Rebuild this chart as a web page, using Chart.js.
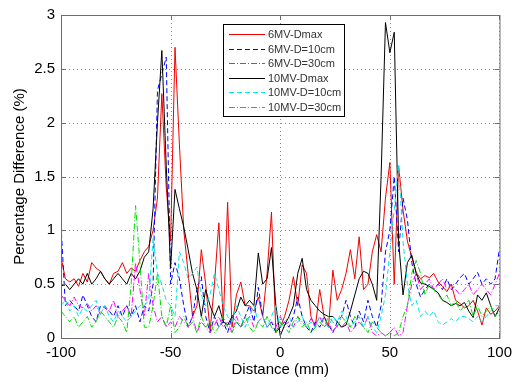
<!DOCTYPE html>
<html>
<head>
<meta charset="utf-8">
<script src="https://cdn.jsdelivr.net/npm/chart.js@4/dist/chart.umd.min.js"></script>
<style>
  html, body { margin: 0; padding: 0; background: #fff; }
  #wrap { width: 518px; height: 382px; position: relative; }
</style>
</head>
<body>
<div id="wrap"><canvas id="c" width="518" height="382"></canvas></div>
<script>
// distance in mm, one sample every 2 mm from -100 to 100
var distance = [];
for (var d = -100; d <= 100; d += 2) distance.push(d);

var seriesLabels = ['6MV-Dmax', '6MV-D=10cm', '6MV-D=30cm', '10MV-Dmax', '10MV-D=10cm', '10MV-D=30cm'];

var mv6Dmax = [0.75,0.55,0.52,0.55,0.48,0.6,0.52,0.7,0.65,0.62,0.55,0.5,0.6,0.62,0.7,0.6,0.65,0.62,0.72,0.8,
  0.85,1.0,1.3,2.27,1.4,0.9,2.7,1.8,1.0,0.6,0.2,0.3,0.82,0.5,0.07,0.5,1.07,0.14,1.26,0.1,
  0.4,0.52,0.3,0.3,0.25,0.38,0.2,0.6,1.17,0.05,0.1,0.2,0.35,0.57,0.3,0.68,0.6,0.2,0.1,0.45,
  0.2,0.1,0.63,0.35,0.45,0.6,0.82,0.55,0.94,0.45,0.5,0.8,0.96,0.8,1.3,1.63,0.5,1.6,1.19,0.9,
  0.75,0.61,0.55,0.58,0.56,0.6,0.52,0.48,0.43,0.5,0.35,0.32,0.28,0.3,0.35,0.25,0.12,0.28,0.22,0.25,0.3];

var mv6D10 = [1.05,0.3,0.35,0.3,0.25,0.4,0.3,0.2,0.15,0.3,0.28,0.25,0.2,0.3,0.2,0.3,0.2,0.3,0.15,0.3,
  0.25,0.5,2.3,2.45,2.61,0.5,0.7,0.55,0.3,0.1,0.2,0.45,0.57,0.2,0.05,0.2,0.1,0.15,0.05,0.2,
  0.15,0.1,0.2,0.3,0.15,0.47,0.2,0.1,0.15,0.05,0.1,0.15,0.1,0.2,0.38,0.2,0.1,0.05,0.15,0.1,
  0.2,0.12,0.05,0.15,0.2,0.35,0.2,0.1,0.25,0.15,0.35,0.2,0.1,0.3,0.8,1.0,1.5,0.8,1.3,1.1,
  0.7,0.5,0.38,0.45,0.5,0.45,0.5,0.45,0.55,0.45,0.5,0.56,0.6,0.5,0.55,0.61,0.5,0.55,0.5,0.55,0.83];

var mv6D30 = [0.4,0.35,0.3,0.38,0.3,0.28,0.32,0.25,0.3,0.22,0.3,0.25,0.35,0.2,0.25,0.3,0.2,0.7,0.45,0.2,
  0.6,0.3,0.15,0.2,0.1,0.15,0.1,0.2,0.15,0.1,0.2,0.05,0.15,0.1,0.05,0.12,0.2,0.1,0.15,0.05,
  0.2,0.1,0.15,0.2,0.1,0.15,0.2,0.1,0.15,0.1,0.2,0.12,0.15,0.1,0.2,0.15,0.1,0.18,0.12,0.2,
  0.1,0.15,0.05,0.12,0.1,0.15,0.05,0.1,0.15,0.1,0.2,0.05,0.02,0.05,0.02,0.05,0.1,0.02,0.05,0.3,
  0.5,0.6,0.45,0.5,0.55,0.45,0.5,0.55,0.45,0.5,0.45,0.4,0.45,0.5,0.4,0.45,0.5,0.45,0.4,0.5,0.6];

var mv10Dmax = [0.48,0.5,0.45,0.5,0.55,0.5,0.6,0.5,0.55,0.62,0.55,0.5,0.55,0.6,0.55,0.5,0.6,0.55,0.62,0.75,
  0.8,1.2,2.0,2.67,1.6,0.65,1.38,1.2,1.03,0.82,0.6,0.45,0.2,0.45,0.3,0.2,0.3,0.15,0.12,0.2,
  0.25,0.38,0.3,0.35,0.3,0.79,0.5,0.55,0.84,0.3,0.02,0.12,0.2,0.3,0.6,0.74,0.45,0.35,0.3,0.25,
  0.22,0.2,0.2,0.15,0.1,0.12,0.25,0.4,0.55,0.62,0.6,0.5,0.35,1.5,2.93,2.65,2.84,0.9,0.4,0.7,
  0.77,0.6,0.51,0.5,0.48,0.45,0.42,0.35,0.33,0.3,0.32,0.3,0.33,0.25,0.19,0.4,0.35,0.42,0.3,0.2,0.28];

var mv10D10 = [0.3,0.35,0.25,0.3,0.2,0.28,0.25,0.3,0.35,0.22,0.3,0.2,0.15,0.25,0.2,0.15,0.2,0.25,0.3,0.3,
  0.35,0.93,0.6,0.5,0.35,0.3,0.2,0.8,0.7,0.55,0.6,0.66,0.4,0.3,0.4,0.6,0.45,0.3,0.2,0.15,
  0.3,0.2,0.1,0.2,0.3,0.15,0.2,0.1,0.2,0.3,0.1,0.15,0.2,0.1,0.15,0.2,0.1,0.15,0.1,0.2,
  0.15,0.1,0.2,0.15,0.25,0.2,0.1,0.15,0.2,0.1,0.2,0.1,0.05,0.2,0.4,0.8,1.2,1.6,0.9,0.5,
  0.3,0.35,0.2,0.25,0.2,0.25,0.15,0.12,0.15,0.18,0.15,0.2,0.2,0.18,0.15,0.2,0.15,0.2,0.25,0.3,0.3];

var mv10D30 = [0.25,0.2,0.15,0.2,0.1,0.15,0.2,0.1,0.15,0.25,0.2,0.15,0.1,0.2,0.15,0.05,0.5,1.23,0.7,0.1,
  0.1,0.3,0.6,0.2,0.1,0.3,0.05,0.1,0.2,0.1,0.15,0.05,0.2,0.1,0.15,0.05,0.1,0.2,0.1,0.05,
  0.15,0.1,0.2,0.1,0.05,0.15,0.1,0.2,0.1,0.05,0.15,0.1,0.05,0.15,0.2,0.1,0.15,0.05,0.1,0.15,
  0.1,0.2,0.15,0.1,0.2,0.15,0.1,0.2,0.15,0.1,0.05,0.15,0.1,0.05,0.02,0.05,0.02,0.05,0.2,0.3,
  0.6,0.72,0.6,0.4,0.5,0.45,0.4,0.35,0.4,0.3,0.35,0.25,0.3,0.35,0.2,0.3,0.2,0.25,0.3,0.2,0.25];

var xTicks = [-100, -50, 0, 50, 100];
var yTicks = [0, 0.5, 1, 1.5, 2, 2.5, 3];

var seriesValues = [mv6Dmax, mv6D10, mv6D30, mv10Dmax, mv10D10, mv10D30];
var seriesColors = ['#f00000', '#0000ff', '#ff00ff', '#000000', '#00e8e8', '#00dd00'];
var seriesDash = [[], [5, 3], [6, 2, 1, 2], [], [5, 3], [6, 2, 1, 2]];

var FONT = '"Liberation Sans", Arial, sans-serif';

function points(vals) {
    return vals.map(function (v, i) { return { x: distance[i], y: v }; });
}

var datasets = seriesValues.map(function (vals, i) {
    return {
        label: seriesLabels[i],
        data: points(vals),
        borderColor: seriesColors[i],
        borderWidth: 1,
        borderDash: seriesDash[i],
        pointRadius: 0,
        tension: 0,
        fill: false,
        order: 6 - i
    };
});

// dotted grid under the lines
var dottedGrid = {
    id: 'dottedGrid',
    beforeDatasetsDraw: function (chart) {
        var ctx = chart.ctx, a = chart.chartArea;
        var xs = chart.scales.x, ys = chart.scales.y;
        ctx.save();
        ctx.strokeStyle = '#8c8c8c';
        ctx.lineWidth = 1;
        ctx.setLineDash([1, 3]);
        ctx.beginPath();
        xTicks.forEach(function (t) {
            var px = Math.round(xs.getPixelForValue(t)) + 0.5;
            ctx.moveTo(px, a.top); ctx.lineTo(px, a.bottom);
        });
        yTicks.forEach(function (t) {
            var py = Math.round(ys.getPixelForValue(t)) + 0.5;
            ctx.moveTo(a.left, py); ctx.lineTo(a.right, py);
        });
        ctx.stroke();
        ctx.restore();
    }
};

// box, inward tick marks and the legend drawn MATLAB-style
var matlabAxes = {
    id: 'matlabAxes',
    afterDraw: function (chart) {
        var ctx = chart.ctx, a = chart.chartArea;
        var xs = chart.scales.x, ys = chart.scales.y;
        ctx.save();
        ctx.strokeStyle = '#6e6e6e';
        ctx.lineWidth = 1;
        ctx.setLineDash([]);
        ctx.strokeRect(a.left + 0.5, a.top + 0.5, a.right - a.left, a.bottom - a.top);
        ctx.beginPath();
        xTicks.forEach(function (t) {
            var px = Math.round(xs.getPixelForValue(t)) + 0.5;
            ctx.moveTo(px, a.bottom); ctx.lineTo(px, a.bottom - 5);
            ctx.moveTo(px, a.top); ctx.lineTo(px, a.top + 5);
        });
        yTicks.forEach(function (t) {
            var py = Math.round(ys.getPixelForValue(t)) + 0.5;
            ctx.moveTo(a.left, py); ctx.lineTo(a.left + 5, py);
            ctx.moveTo(a.right, py); ctx.lineTo(a.right - 5, py);
        });
        ctx.stroke();

        // legend box
        var lx = 223, ly = 24, lw = 121, lh = 92;
        ctx.fillStyle = '#fff';
        ctx.fillRect(lx, ly, lw, lh);
        ctx.strokeStyle = '#000';
        ctx.strokeRect(lx + 0.5, ly + 0.5, lw, lh);
        ctx.font = '11px ' + FONT;
        ctx.textBaseline = 'middle';
        seriesLabels.forEach(function (label, i) {
            var y = Math.round(ly + 10 + i * 14.5) + 0.5;
            ctx.strokeStyle = seriesColors[i];
            ctx.lineWidth = 1;
            ctx.setLineDash(seriesDash[i]);
            ctx.beginPath();
            ctx.moveTo(lx + 6, y); ctx.lineTo(lx + 42, y);
            ctx.stroke();
            ctx.setLineDash([]);
            ctx.fillStyle = '#333';
            ctx.fillText(label, lx + 45, y);
        });
        ctx.restore();
    }
};

new Chart(document.getElementById('c'), {
    type: 'line',
    data: { datasets: datasets },
    options: {
        responsive: false,
        animation: false,
        layout: { padding: { top: 15, right: 14, left: 11, bottom: 3 } },
        plugins: { legend: { display: false }, tooltip: { enabled: false } },
        scales: {
            x: {
                type: 'linear', min: -100, max: 100,
                afterBuildTicks: function (s) { s.ticks = xTicks.map(function (v) { return { value: v }; }); },
                afterFit: function (s) { s.height = 41; },
                grid: { display: false, drawTicks: false, tickLength: 0 },
                border: { display: false },
                ticks: { color: '#000', padding: 6, maxRotation: 0, font: { family: FONT, size: 15 } },
                title: { display: true, text: 'Distance (mm)', color: '#000', padding: 0, font: { family: FONT, size: 15 } }
            },
            y: {
                min: 0, max: 3,
                afterBuildTicks: function (s) { s.ticks = yTicks.map(function (v) { return { value: v }; }); },
                afterFit: function (s) { s.width = 50; },
                grid: { display: false, drawTicks: false, tickLength: 0 },
                border: { display: false },
                ticks: {
                    color: '#000', padding: 6, font: { family: FONT, size: 15 },
                    callback: function (v) { return String(v); }
                },
                title: { display: true, text: 'Percentage Difference (%)', color: '#000', padding: 0, font: { family: FONT, size: 15 } }
            }
        }
    },
    plugins: [dottedGrid, matlabAxes]
});
</script>
</body>
</html>
